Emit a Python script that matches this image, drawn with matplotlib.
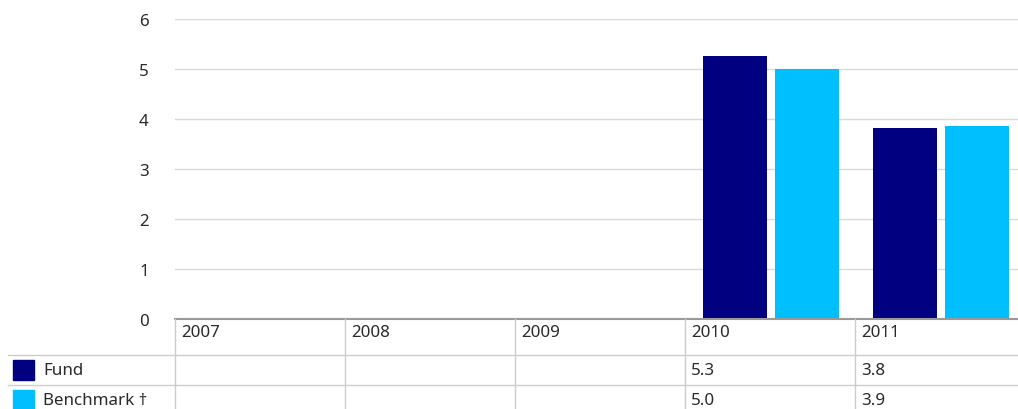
import matplotlib
matplotlib.use("Agg")
import matplotlib.pyplot as plt
from matplotlib.transforms import blended_transform_factory
from matplotlib.lines import Line2D
from matplotlib.patches import Rectangle

plt.rcParams['font.family'] = ['Noto Sans', 'DejaVu Sans']

years = ["2007", "2008", "2009", "2010", "2011"]
fund = [None, None, None, 5.26, 3.82]
benchmark = [None, None, None, 5.0, 3.87]
series_names = ["Fund", "Benchmark \u2020"]
colors = ["#000080", "#00BFFF"]
yticks = [0, 1, 2, 3, 4, 5, 6]

W, H = 1018, 410
fig = plt.figure(figsize=(W / 100, H / 100), dpi=100)

def fx(px):
    return px / W

def fy(py):
    return 1 - py / H

FS = 12.2
tc = "#2a2a2a"

ax = fig.add_axes([fx(175), fy(320), 850 / W, 300 / H])
ax.set_xlim(-0.5, len(years) - 0.5)
ax.set_ylim(0, 6)

bw = 64 / 170
offs = [-0.206, 0.218]
for si, (vals, col) in enumerate(zip([fund, benchmark], colors)):
    xs = [i + offs[si] for i, v in enumerate(vals) if v is not None]
    hs = [v for v in vals if v is not None]
    ax.bar(xs, hs, width=bw, color=col, zorder=3)

ax.set_yticks(yticks)
ax.set_yticklabels([str(t) for t in yticks], fontsize=FS, color=tc)
ax.tick_params(axis='y', length=0, pad=19)
ax.set_xticks([])
ax.grid(axis='y', color="#d9d9d9", linewidth=1, zorder=0)
for s in ["top", "right", "left"]:
    ax.spines[s].set_visible(False)
ax.spines["bottom"].set_color("#999999")
ax.spines["bottom"].set_linewidth(1.5)
ax.spines["bottom"].set_zorder(4)

# table below
tr = blended_transform_factory(ax.transData, fig.transFigure)
grid_c = "#cccccc"
for i in range(len(years)):
    fig.add_artist(Line2D([i - 0.5, i - 0.5], [fy(320), fy(412)], transform=tr,
                          color=grid_c, linewidth=1))
for py in [356, 386]:
    fig.add_artist(Line2D([fx(8), 1.0], [fy(py), fy(py)], transform=fig.transFigure,
                          color=grid_c, linewidth=1))

dx = 6 / 170
for i, y in enumerate(years):
    ax.text(i - 0.5 + dx, fy(333), y, transform=tr, fontsize=FS, color=tc,
            va='center', ha='left')
for row, (vals, py) in enumerate(zip([fund, benchmark], [371, 401])):
    for i, v in enumerate(vals):
        if v is not None:
            ax.text(i - 0.5 + dx, fy(py), f"{v:.1f}", transform=tr, fontsize=FS,
                    color=tc, va='center', ha='left')

for name, col, py in zip(series_names, colors, [371, 401]):
    fig.add_artist(Rectangle((fx(13), fy(py + 10)), 21 / W, 20 / H,
                             transform=fig.transFigure, color=col))
    fig.text(fx(43), fy(py), name, fontsize=FS, color=tc, va='center', ha='left')

fig.savefig("out.png", dpi=100)
